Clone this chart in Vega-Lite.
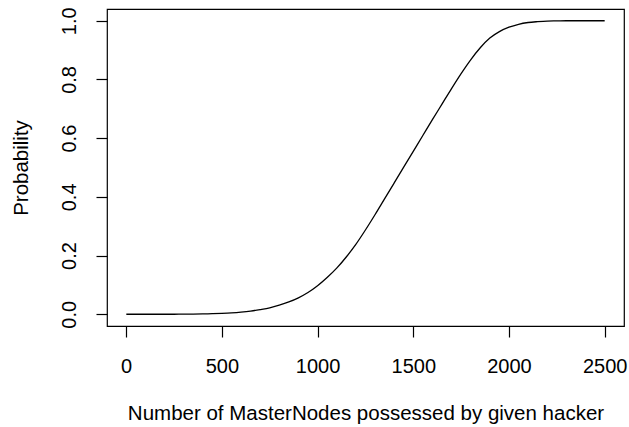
{
  "$schema": "https://vega.github.io/schema/vega-lite/v6.json",
  "width": 517,
  "height": 317,
  "autosize": {"type": "none"},
  "padding": {"left": 107, "top": 9, "right": 5, "bottom": 101},
  "background": "white",
  "config": {
    "view": {"stroke": "#000", "strokeWidth": 1.2},
    "font": "Liberation Sans",
    "axis": {
      "domain": false,
      "grid": false,
      "tickColor": "#000",
      "tickSize": 11,
      "tickWidth": 1.2,
      "labelFont": "Liberation Sans",
      "labelFontSize": 20,
      "labelColor": "#000",
      "titleFont": "Liberation Sans",
      "titleFontSize": 20.5,
      "titleFontWeight": "normal",
      "titleColor": "#000"
    }
  },
  "data": {
    "values": [
      {"n": 1, "p": 0},
      {"n": 100, "p": 0},
      {"n": 200, "p": 0},
      {"n": 250, "p": 0.0001},
      {"n": 300, "p": 0.0003},
      {"n": 350, "p": 0.0006},
      {"n": 400, "p": 0.0012},
      {"n": 450, "p": 0.002},
      {"n": 500, "p": 0.0033},
      {"n": 550, "p": 0.005},
      {"n": 600, "p": 0.0075},
      {"n": 650, "p": 0.011},
      {"n": 700, "p": 0.016},
      {"n": 750, "p": 0.022},
      {"n": 800, "p": 0.031},
      {"n": 850, "p": 0.042},
      {"n": 900, "p": 0.056},
      {"n": 950, "p": 0.074},
      {"n": 1000, "p": 0.097},
      {"n": 1050, "p": 0.125},
      {"n": 1100, "p": 0.157},
      {"n": 1150, "p": 0.195},
      {"n": 1200, "p": 0.238},
      {"n": 1250, "p": 0.287},
      {"n": 1300, "p": 0.339},
      {"n": 1350, "p": 0.393},
      {"n": 1400, "p": 0.447},
      {"n": 1450, "p": 0.501},
      {"n": 1500, "p": 0.555},
      {"n": 1550, "p": 0.609},
      {"n": 1600, "p": 0.663},
      {"n": 1650, "p": 0.716},
      {"n": 1700, "p": 0.769},
      {"n": 1750, "p": 0.820},
      {"n": 1800, "p": 0.867},
      {"n": 1850, "p": 0.908},
      {"n": 1900, "p": 0.941},
      {"n": 1950, "p": 0.963},
      {"n": 2000, "p": 0.978},
      {"n": 2050, "p": 0.988},
      {"n": 2100, "p": 0.994},
      {"n": 2150, "p": 0.997},
      {"n": 2200, "p": 0.999},
      {"n": 2250, "p": 0.9995},
      {"n": 2300, "p": 1},
      {"n": 2400, "p": 1},
      {"n": 2500, "p": 1}
    ]
  },
  "mark": {"type": "line", "color": "#000", "strokeWidth": 1.3, "interpolate": "monotone", "clip": true},
  "encoding": {
    "x": {
      "field": "n",
      "type": "quantitative",
      "scale": {"domain": [-99.96, 2600.96], "nice": false, "zero": false},
      "axis": {
        "values": [0, 500, 1000, 1500, 2000, 2500],
        "format": "d",
        "labelPadding": 19,
        "title": "Number of MasterNodes possessed by given hacker",
        "titlePadding": 27
      }
    },
    "y": {
      "field": "p",
      "type": "quantitative",
      "scale": {"domain": [-0.04, 1.04], "nice": false, "zero": false},
      "axis": {
        "values": [0, 0.2, 0.4, 0.6, 0.8, 1.0],
        "format": ".1f",
        "labelAngle": 270,
        "labelAlign": "center",
        "labelBaseline": "bottom",
        "labelPadding": 17,
        "title": "Probability",
        "titlePadding": 28
      }
    }
  }
}
